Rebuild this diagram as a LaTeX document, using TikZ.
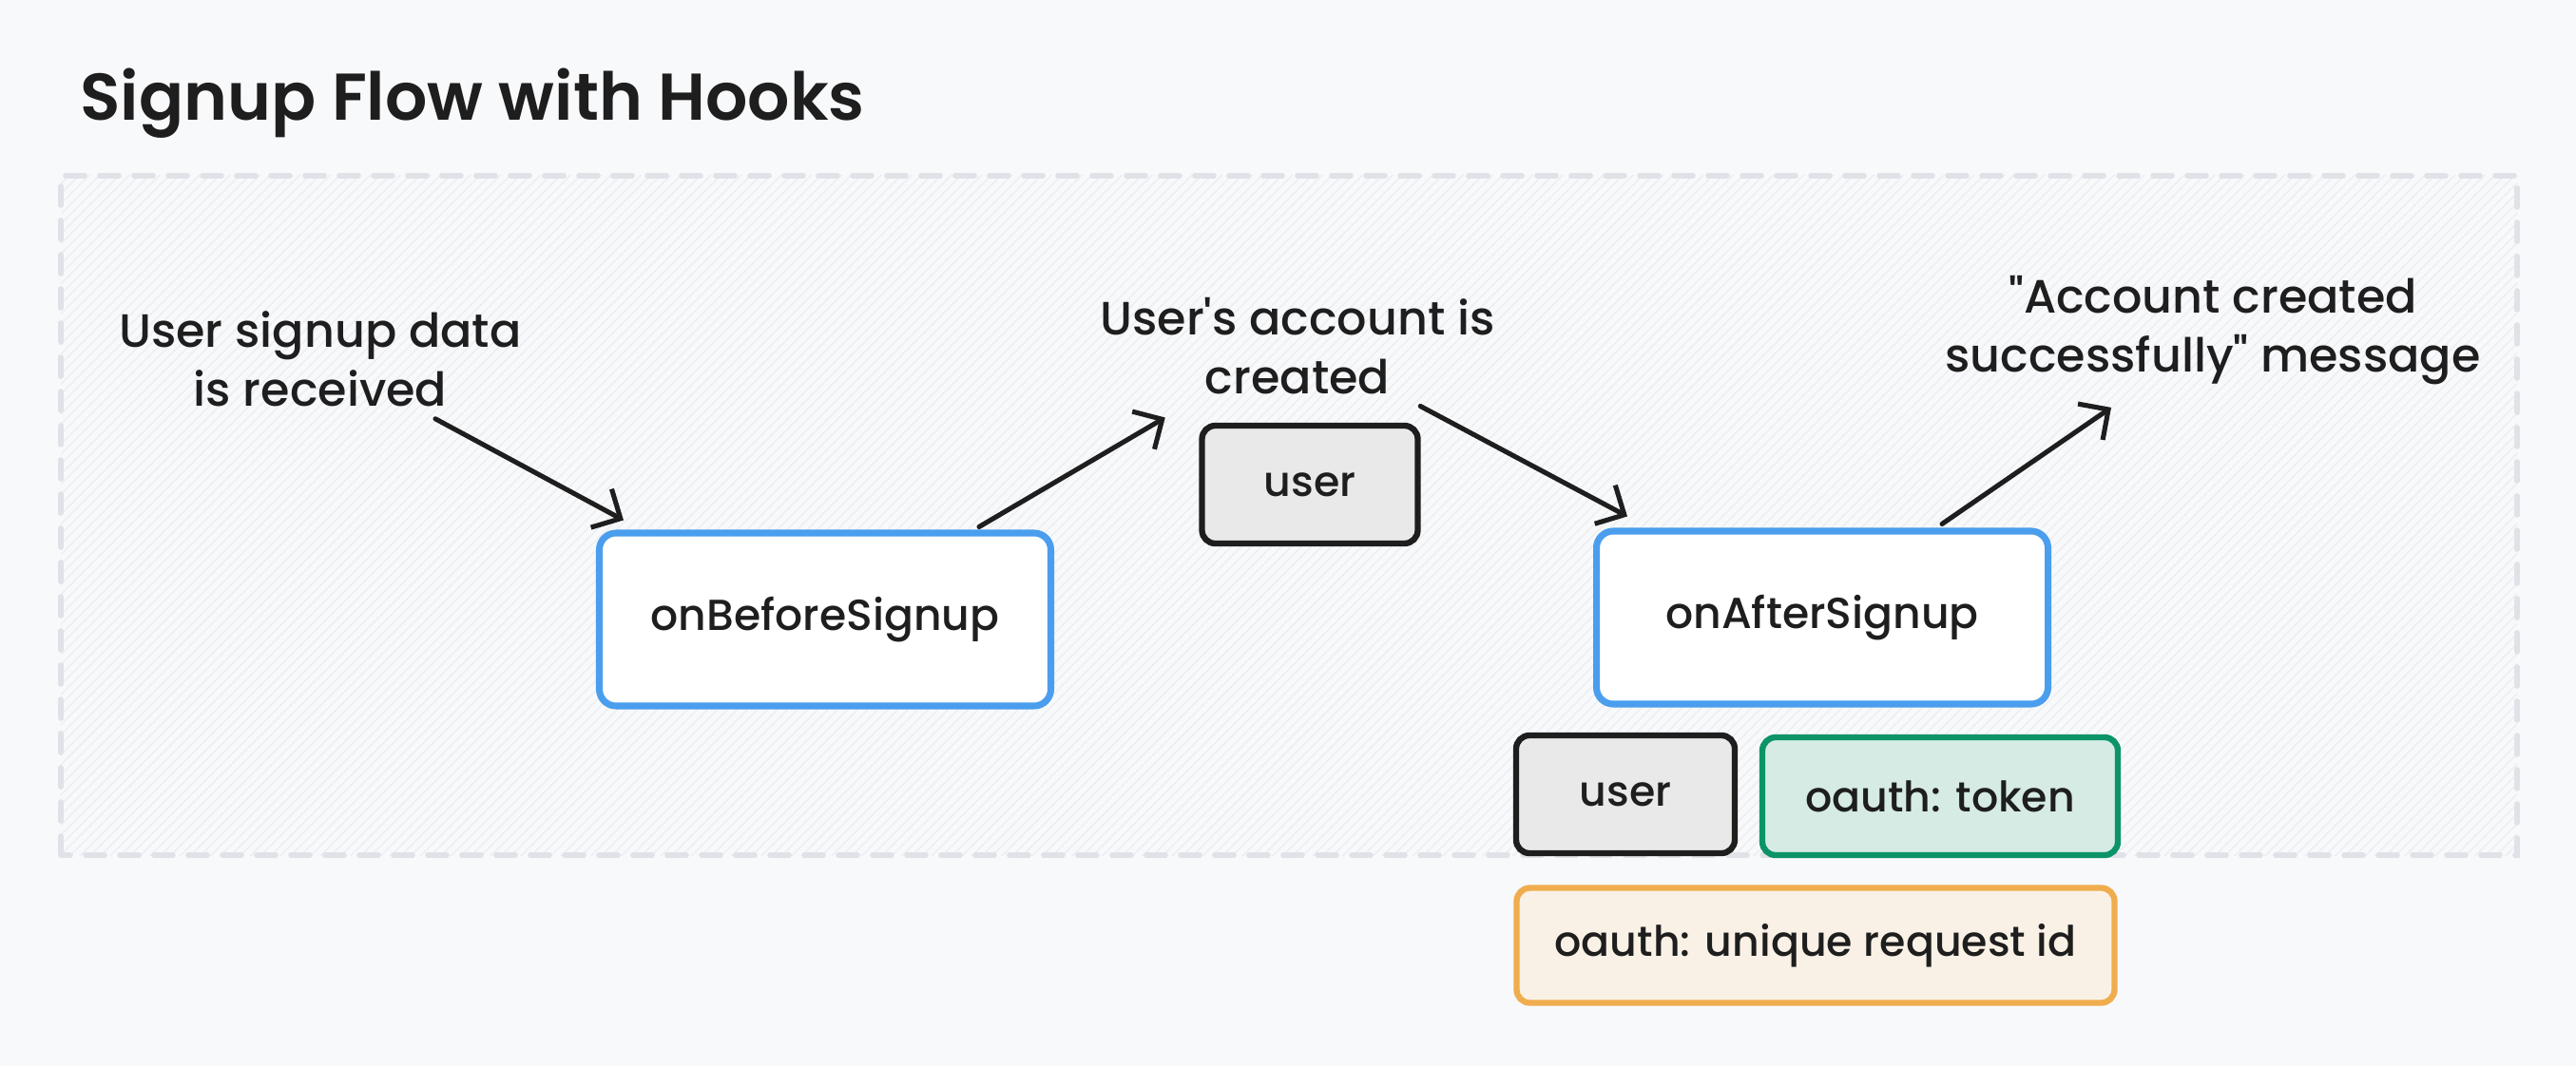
\documentclass[tikz,border=0pt]{standalone}
\usepackage{fontspec}
\setmainfont{Poppins Medium}[BoldFont={Poppins SemiBold}]
\usetikzlibrary{arrows.meta,patterns}

\definecolor{ink}{HTML}{1E1E1E}
\definecolor{paper}{HTML}{F8F9FB}
\definecolor{frame}{HTML}{E0E2E7}
\definecolor{hatch}{HTML}{EDEEF2}
\definecolor{hookblue}{HTML}{4A9EED}
\definecolor{chipgray}{HTML}{E9E9E9}
\definecolor{tokline}{HTML}{0C9468}
\definecolor{tokfill}{HTML}{D5EBE4}
\definecolor{reqline}{HTML}{F0AD4E}
\definecolor{reqfill}{HTML}{FAF1E6}

\begin{document}
\begin{tikzpicture}[font=\fontsize{14}{17.6}\selectfont, text=ink,
    hook/.style={draw=hookblue, fill=white, line width=2pt, rounded corners=5pt,
        minimum width=4.75cm, minimum height=1.82cm, font=\fontsize{13}{16}\selectfont},
    chip/.style={line width=1.8pt, rounded corners=4pt, minimum height=1.24cm,
        font=\fontsize{12.6}{16}\selectfont},
    note/.style={align=center, inner sep=0pt},
    flow/.style={-{Straight Barb[length=2.3mm,width=4.6mm]}, draw=ink,
        line width=1.45pt, line cap=round, line join=round}]
    % page and dashed area
    \fill[paper] (0,0) rectangle (27.10,11.22);
    \useasboundingbox (0,0) rectangle (27.10,11.22);
    \fill[pattern=north east lines, pattern color=hatch] (0.64,2.22) rectangle (26.48,9.37);
    \draw[frame, line width=1.6pt, line cap=round, dash pattern=on 0.2cm off 0.16cm]
        (0.64,2.22) rectangle (26.48,9.37);

    \node[anchor=west, font=\fontsize{19.8}{24}\selectfont\bfseries] (title) at (0.72,10.13)
        {Signup Flow with Hooks};

    % hooks
    \node[hook] (before) at (8.68,4.70) {onBeforeSignup};
    \node[hook] (after) at (19.17,4.72) {onAfterSignup};

    % notes
    \node[note] (received) at (3.37,7.44) {User signup data\\is received};
    \node[note] (created) at (13.65,7.58) {User\textquotesingle s account is\\created};
    \node[note] (message) at (23.28,7.74) {\textquotedbl Account created\\successfully\textquotedbl{} message};

    % data chips
    \node[chip, draw=ink, fill=chipgray, minimum width=2.27cm] (user) at (13.78,6.12) {user};
    \node[chip, draw=ink, fill=chipgray, minimum width=2.30cm] (user2) at (17.10,2.86) {user};
    \node[chip, draw=tokline, fill=tokfill, minimum width=3.74cm] (token) at (20.41,2.84) {oauth: token};
    \node[chip, draw=reqline, fill=reqfill, minimum width=6.29cm, minimum height=1.21cm] (reqid)
        at (19.10,1.27) {oauth: unique request id};

    % arrows
    \draw[flow] ([xshift=1.21cm,yshift=-0.12cm]received.south) -- ([xshift=0.29cm,yshift=0.10cm]before.north west);
    \draw[flow] ([xshift=-0.79cm,yshift=0.03cm]before.north east) -- ([xshift=0.69cm,yshift=-0.24cm]created.south west);
    \draw[flow] ([xshift=-0.79cm,yshift=-0.12cm]created.south east) -- ([xshift=0.36cm,yshift=0.12cm]after.north west);
    \draw[flow] ([xshift=1.26cm,yshift=0.04cm]after.north) -- ([xshift=-1.07cm,yshift=-0.23cm]message.south);
\end{tikzpicture}
\end{document}
